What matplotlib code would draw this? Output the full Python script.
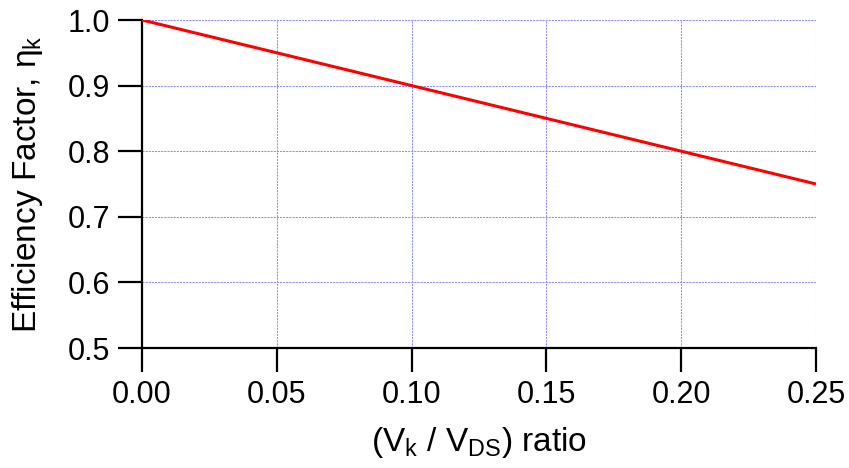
import matplotlib
matplotlib.use("Agg")
import matplotlib.pyplot as plt

plt.rcParams["font.family"] = ["Liberation Sans", "DejaVu Sans"]
plt.rcParams["mathtext.fontset"] = "custom"
plt.rcParams["mathtext.rm"] = "Liberation Sans"
plt.rcParams["mathtext.it"] = "Liberation Sans"

ratio = [0.0, 0.25]
efficiency = [1.0, 0.75]
x_ticks = [0.00, 0.05, 0.10, 0.15, 0.20, 0.25]
y_ticks = [0.5, 0.6, 0.7, 0.8, 0.9, 1.0]

fig = plt.figure(figsize=(8.49, 4.68), dpi=100)
ax = fig.add_axes([142 / 849, 1 - 348 / 468, (816 - 142) / 849, (348 - 20) / 468])

ax.plot(ratio, efficiency, color="#ff0000", linewidth=2.2, solid_capstyle="butt", zorder=3)

ax.set_xlim(0, 0.25)
ax.set_ylim(0.5, 1.0)
ax.set_xticks(x_ticks)
ax.set_yticks(y_ticks)
ax.set_xticklabels([f"{v:.2f}" for v in x_ticks])
ax.set_yticklabels([f"{v:.1f}" for v in y_ticks])

ax.grid(True, color="#8c8cff", linestyle=(0, (2, 1)), linewidth=0.75)
for s in ("top", "right"):
    ax.spines[s].set_visible(False)
for s in ("left", "bottom"):
    ax.spines[s].set_linewidth(1.6)
ax.tick_params(direction="out", length=17, width=1.6, labelsize=22, pad=6, colors="black")

ax.set_xlabel(r"(V$_\mathregular{k}$ / V$_\mathregular{DS}$) ratio", fontsize=24, labelpad=11)
ax.set_ylabel(r"Efficiency Factor, $\eta_\mathregular{k}$", fontsize=24, labelpad=16)

fig.savefig("out.png", dpi=100)
